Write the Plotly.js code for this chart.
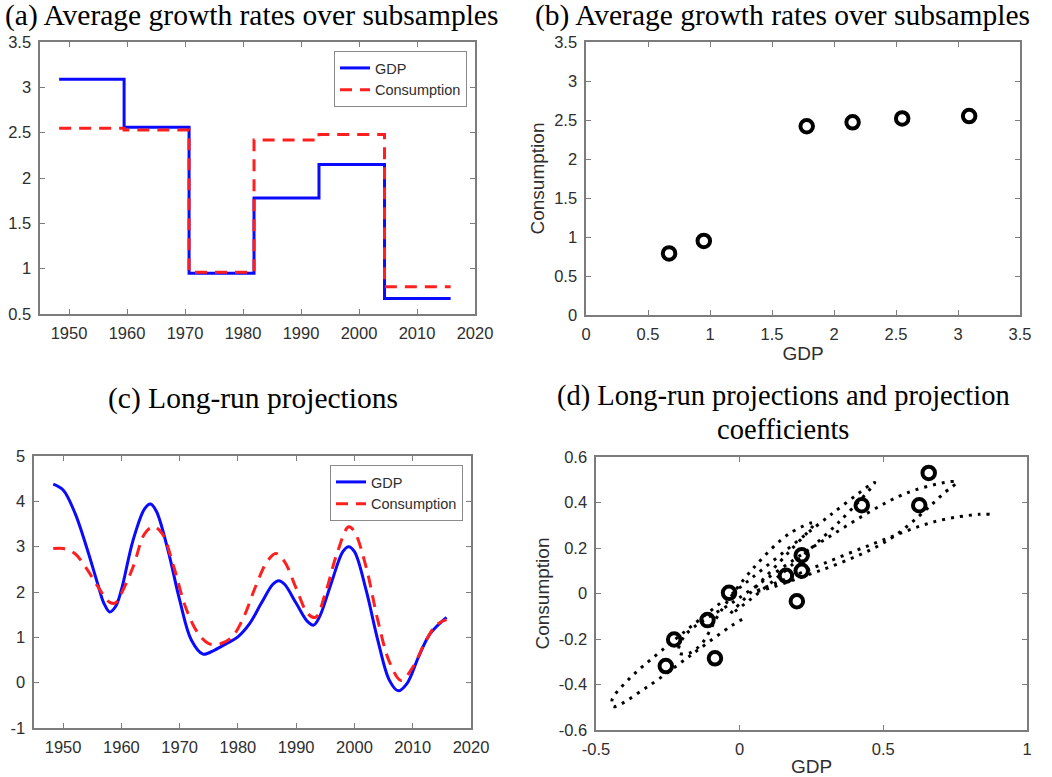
<!DOCTYPE html>
<html>
<head>
<meta charset="utf-8">
<script src="https://cdn.plot.ly/plotly-3.0.1.min.js"></script>
<style>
html,body{margin:0;padding:0;background:#fff;}
#chart{width:1052px;height:777px;}
</style>
</head>
<body>
<div id="chart"></div>
<script>
// ---------- Panel (a): average growth rates over subsamples (step series) ----------
const aBreakYears = [1948.3, 1959.5, 1970.7, 1981.9, 1993.1, 2004.4, 2015.8];
const aGDP  = [3.09, 2.56, 0.95, 1.78, 2.15, 0.67, 0.67];
const aCons = [2.55, 2.53, 0.96, 2.42, 2.48, 0.80, 0.80];

// ---------- Panel (b): subsample averages, consumption vs GDP ----------
const bGDP  = [0.67, 0.95, 1.78, 2.15, 2.55, 3.09];
const bCons = [0.79, 0.95, 2.42, 2.47, 2.52, 2.55];

// ---------- Panel (c): long-run projections ----------
const cYearsGDP = [1948.3,1950,1952,1954,1956,1957,1958,1959,1960,1962,1964,1965,1966,1968,1970,1972,1974,1976,1978,1980,1982,1984,1986,1987,1988,1990,1992,1993,1994,1996,1998,1999,2000,2002,2004,2006,2007.5,2009,2011,2013,2015.8];
const cGDP = [4.38,4.25,3.75,3.00,2.15,1.75,1.56,1.68,2.05,3.14,3.84,3.94,3.78,2.92,1.82,0.94,0.63,0.72,0.86,1.01,1.30,1.75,2.17,2.25,2.17,1.75,1.34,1.27,1.45,2.19,2.89,3.00,2.89,2.04,0.94,0.05,-0.18,-0.02,0.57,1.08,1.44];
const cYearsCons = [1948.3,1950,1952,1954,1956,1958,1959,1960,1962,1964,1965.5,1967,1969,1971,1973,1975,1977,1979,1981,1983,1985,1986.5,1988,1990,1992,1993.3,1995,1997,1999,2000,2002,2004,2006,2008,2010,2012,2014,2015.8];
const cCons = [2.96,2.96,2.85,2.52,2.11,1.77,1.76,1.97,2.55,3.29,3.44,3.29,2.55,1.67,1.12,0.86,0.86,1.01,1.45,2.11,2.67,2.85,2.67,2.08,1.52,1.44,1.97,2.85,3.44,3.33,2.55,1.38,0.46,0.05,0.34,0.86,1.27,1.39];

// ---------- Panel (d): long-run projections (dotted path) and projection coefficients (circles) ----------
const dPathGDP  = [0.870,0.833,0.682,0.470,0.235,0.052,0.192,0.511,0.714,0.755,0.586,0.287,-0.009,-0.191,-0.212,-0.174,-0.130,-0.072,0.041,0.174,0.260,0.174,0.044,-0.032,0.122,0.348,0.470,0.325,0.035,-0.270,-0.386,-0.444,-0.440,-0.322,-0.159,-0.029,0.018];
const dPathCons = [0.348,0.348,0.317,0.221,0.102,0.006,0.061,0.230,0.444,0.490,0.444,0.230,-0.026,-0.185,-0.261,-0.261,-0.217,-0.090,0.102,0.264,0.311,0.186,0.012,-0.090,0.061,0.317,0.488,0.354,0.061,-0.249,-0.377,-0.467,-0.497,-0.411,-0.261,-0.142,-0.107];
const dCoefGDP  = [0.658,0.625,0.425,0.216,0.216,0.161,0.199,-0.037,-0.112,-0.228,-0.086,-0.257];
const dCoefCons = [0.530,0.388,0.388,0.168,0.100,0.078,-0.034,0.003,-0.117,-0.202,-0.285,-0.319];

// ---------- Tick labels ----------
const yearTicks = [1950,1960,1970,1980,1990,2000,2010,2020];
const aYTicks = [0.5,1,1.5,2,2.5,3,3.5];
const bTicks = [0,0.5,1,1.5,2,2.5,3,3.5];
const cYTicks = [-1,0,1,2,3,4,5];
const cYTickText = ['-1','0','1','2','3','4','5'];
const dXTicks = [-0.5,0,0.5,1];
const dXTickText = ['-0.5','0','0.5','1'];
const dYTicks = [-0.6,-0.4,-0.2,0,0.2,0.4,0.6];
const dYTickText = ['-0.6','-0.4','-0.2','0','0.2','0.4','0.6'];

const W = 1052, H = 777;
const BLUE = '#0a0aff', RED = '#ff1f1f';
const AXC = '#7c7c7c';
const TICKFONT = {family:'Liberation Sans, Arial, sans-serif', size:16.5, color:'#2e2e2e'};
const LABFONT = {family:'Liberation Sans, Arial, sans-serif', size:19, color:'#2e2e2e'};
const TITLEFONT = {family:'Liberation Serif, Times New Roman, serif', size:29.5, color:'#000'};
const TITLEFONT_D = {family:'Liberation Serif, Times New Roman, serif', size:28.5, color:'#000'};

function px(x){return x/W;}
function py(y){return 1 - y/H;}

function axis(dom, range, tickvals, ticktext, anchor, title, standoff){
  const a = {
    domain: dom, range: range, anchor: anchor,
    showline: true, linecolor: AXC, linewidth: 1.6, mirror: 'ticks',
    ticks: 'inside', ticklen: 5, tickwidth: 1, tickcolor: AXC,
    showgrid: false, zeroline: false, fixedrange: true,
    tickfont: TICKFONT, tickmode: 'array', tickvals: tickvals,
    ticklabelstandoff: 4
  };
  if (ticktext) a.ticktext = ticktext;
  if (title) a.title = {text: title, font: LABFONT, standoff: standoff};
  return a;
}

const traces = [
  // (a)
  {x: aBreakYears, y: aGDP, type:'scatter', mode:'lines', line:{shape:'hv', color:BLUE, width:3},
   name:'GDP', xaxis:'x', yaxis:'y', legend:'legend'},
  {x: aBreakYears, y: aCons, type:'scatter', mode:'lines', line:{shape:'hv', color:RED, width:3, dash:'12px,8px'},
   name:'Consumption', xaxis:'x', yaxis:'y', legend:'legend'},
  // (b)
  {x: bGDP, y: bCons, type:'scatter', mode:'markers',
   marker:{symbol:'circle-open', size:12.5, color:'#000', line:{width:4, color:'#000'}},
   showlegend:false, xaxis:'x2', yaxis:'y2'},
  // (c)
  {x: cYearsGDP, y: cGDP, type:'scatter', mode:'lines', line:{shape:'spline', smoothing:1, color:BLUE, width:3},
   name:'GDP', xaxis:'x3', yaxis:'y3', legend:'legend2'},
  {x: cYearsCons, y: cCons, type:'scatter', mode:'lines', line:{shape:'spline', smoothing:1, color:RED, width:3, dash:'12px,8px'},
   name:'Consumption', xaxis:'x3', yaxis:'y3', legend:'legend2'},
  // (d)
  {x: dPathGDP, y: dPathCons, type:'scatter', mode:'lines', line:{shape:'spline', smoothing:1, color:'#000', width:3, dash:'3px,6px'},
   showlegend:false, xaxis:'x4', yaxis:'y4'},
  {x: dCoefGDP, y: dCoefCons, type:'scatter', mode:'markers',
   marker:{symbol:'circle-open', size:12.5, color:'#000', line:{width:4, color:'#000'}},
   showlegend:false, xaxis:'x4', yaxis:'y4'}
];

const legendBase = {
  xanchor:'left', yanchor:'top', bgcolor:'#fff', bordercolor:'#8a8a8a', borderwidth:1,
  font:{family:'Liberation Sans, Arial, sans-serif', size:14.5, color:'#2e2e2e'},
  tracegroupgap:0, itemwidth:30
};

const layout = {
  width: W, height: H,
  margin:{l:0, r:0, t:0, b:0},
  paper_bgcolor:'#fff', plot_bgcolor:'#fff',
  showlegend: true,
  legend: Object.assign({}, legendBase, {x: px(334), y: py(51)}),
  legend2: Object.assign({}, legendBase, {x: px(330), y: py(465)}),
  xaxis:  axis([px(40), px(475)], [1945, 2020], yearTicks, null, 'y'),
  yaxis:  axis([py(314), py(42)], [0.5, 3.5], aYTicks, null, 'x'),
  xaxis2: axis([px(586), px(1020)], [0, 3.5], bTicks, null, 'y2', 'GDP', 2),
  yaxis2: axis([py(315), py(42)], [0, 3.5], bTicks, null, 'x2', 'Consumption', 4),
  xaxis3: axis([px(34), px(471)], [1945, 2020], yearTicks, null, 'y3'),
  yaxis3: axis([py(728), py(456)], [-1, 5], cYTicks, cYTickText, 'x3'),
  xaxis4: axis([px(596), px(1027)], [-0.5, 1], dXTicks, dXTickText, 'y4', 'GDP', 2),
  yaxis4: axis([py(730), py(457)], [-0.6, 0.6], dYTicks, dYTickText, 'x4', 'Consumption', 4),
  annotations: [
    {text:'(a) Average growth rates over subsamples', xref:'paper', yref:'paper', x: px(3), y: py(16), xanchor:'left', yanchor:'middle', showarrow:false, font: TITLEFONT},
    {text:'(b) Average growth rates over subsamples', xref:'paper', yref:'paper', x: px(782), y: py(16), xanchor:'center', yanchor:'middle', showarrow:false, font: TITLEFONT},
    {text:'(c) Long-run projections', xref:'paper', yref:'paper', x: px(253), y: py(398), xanchor:'center', yanchor:'middle', showarrow:false, font: TITLEFONT},
    {text:'(d) Long-run projections and projection', xref:'paper', yref:'paper', x: px(783), y: py(396), xanchor:'center', yanchor:'middle', showarrow:false, font: TITLEFONT_D},
    {text:'coefficients', xref:'paper', yref:'paper', x: px(783), y: py(429), xanchor:'center', yanchor:'middle', showarrow:false, font: TITLEFONT_D}
  ]
};

Plotly.newPlot('chart', traces, layout, {staticPlot:true, displayModeBar:false});
</script>
</body>
</html>
